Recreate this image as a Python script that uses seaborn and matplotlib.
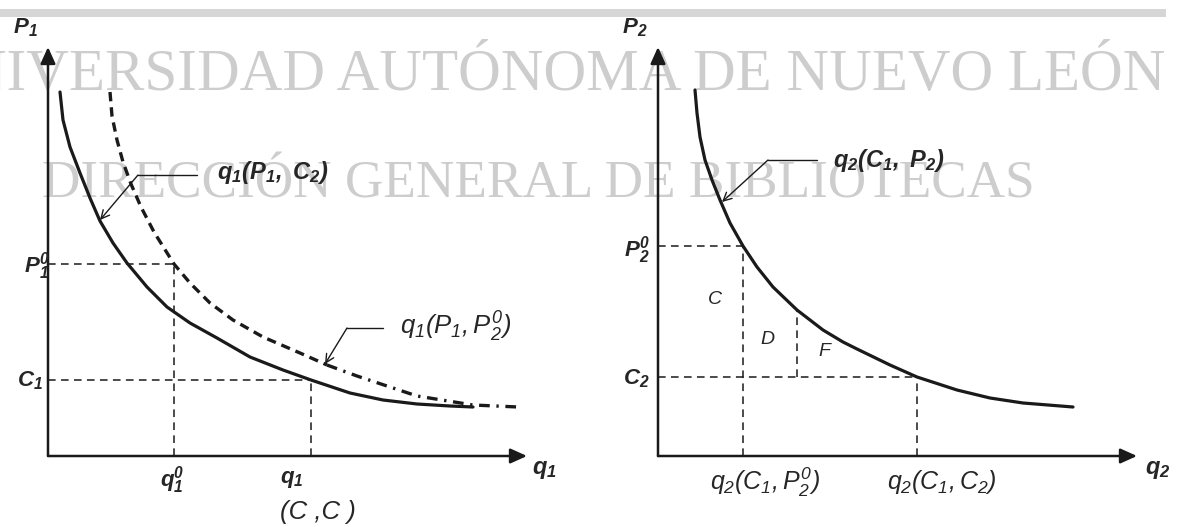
import matplotlib
matplotlib.use('Agg')
import matplotlib.pyplot as plt
import seaborn as sns
from matplotlib.patches import Rectangle

# =============================================================================
# DATOS (unidades arbitrarias de cantidad / precio)
# =============================================================================
# Panel izquierdo: demanda del bien 1
q1_con_c2 = [1.2, 1.5, 2.2, 3.2, 4.2, 5.2, 6.5, 7.9, 9.9, 11.9, 14.2, 16.9, 20.2, 23.5,
             26.3, 30.2, 33.5, 36.9, 40.2, 42.5]
p1_con_c2 = [36.4, 33.6, 30.9, 28.3, 25.8, 23.5, 21.3, 19.3, 16.9, 14.9, 13.3, 11.8, 9.9, 8.6,
             7.6, 6.3, 5.6, 5.2, 5.0, 4.9]

q1_con_p20_raya = [6.2, 6.4, 6.9, 7.5, 8.3, 9.3, 10.6, 12.6, 14.2, 16.2, 18.5, 21.5, 25.2, 27.9]
p1_con_p20_raya = [36.4, 34.0, 31.6, 29.4, 27.2, 24.9, 22.4, 19.2, 17.3, 15.3, 13.6, 11.9, 10.3, 9.1]
q1_con_p20_punto = [27.9, 30.9, 36.9, 42.5, 47.0]
p1_con_p20_punto = [9.1, 8.0, 6.0, 5.1, 4.9]

P1_0, q1_0 = 19.2, 12.6
C1, q1_CC = 7.6, 26.3

# Panel derecho: demanda del bien 2
q2_curva = [3.7, 3.9, 4.2, 4.7, 5.4, 6.2, 7.2, 8.5, 9.9, 11.5, 13.9, 16.5, 18.5,
            19.9, 23.2, 25.9, 29.9, 33.2, 36.5, 41.5]
p2_curva = [36.6, 34.3, 31.9, 29.6, 27.6, 25.6, 23.3, 21.0, 18.9, 16.9, 14.6, 12.6, 11.4,
            10.7, 9.1, 7.9, 6.6, 5.8, 5.3, 4.9]

P2_0, q2_P20 = 21.0, 8.5
C2, q2_C1C2 = 7.9, 25.9
q2_DF, p2_DF = 13.9, 14.6

# =============================================================================
# ESTILO
# =============================================================================
sns.set_theme(style='white')
plt.rcParams['font.family'] = ['Liberation Sans', 'DejaVu Sans']
plt.rcParams['mathtext.fontset'] = 'custom'
plt.rcParams['mathtext.rm'] = 'Liberation Sans:italic'
plt.rcParams['mathtext.it'] = 'Liberation Sans:italic'
plt.rcParams['mathtext.bf'] = 'Liberation Sans:italic:bold'

W, H = 1177, 527
fig = plt.figure(figsize=(W / 100, H / 100), dpi=100)

# fondo del escaneo: barra gris y marca de agua
fig.add_artist(Rectangle((0, 1 - 17 / H), 1166 / W, 8 / H, transform=fig.transFigure,
                         color='#d6d6d6', lw=0, zorder=-3))
fig.text(1165 / W, 1 - 90 / H, 'UNIVERSIDAD AUTÓNOMA DE NUEVO LEÓN', ha='right', va='baseline',
         fontsize=42.6, family='Liberation Serif', color='#cdcdcd', zorder=-2)
fig.text(42 / W, 1 - 197 / H, 'DIRECCIÓN GENERAL DE BIBLIOTECAS', ha='left', va='baseline',
         fontsize=38.3, family='Liberation Serif', color='#cdcdcd', zorder=-2)

ax1 = fig.add_axes([0, 0, 590 / W, 1])
ax2 = fig.add_axes([590 / W, 0, 587 / W, 1])

eje = dict(arrowstyle='-|>,head_length=1.0,head_width=0.45', lw=1.8, color='k',
           mutation_scale=10, shrinkA=0, shrinkB=0)
flecha = dict(arrowstyle='->,head_length=0.6,head_width=0.3', lw=1.0, color='k',
              mutation_scale=10, shrinkA=0, shrinkB=0)
guia = dict(color='k', lw=1.1, linestyles=(0, (5, 3.5)))

for ax in (ax1, ax2):
    ax.annotate('', xy=(0, 40.9), xytext=(0, 0), arrowprops=eje)
    ax.annotate('', xy=(47.9, 0), xytext=(0, 0), arrowprops=eje)

# =============================================================================
# PANEL 1
# =============================================================================
sns.lineplot(x=q1_con_c2, y=p1_con_c2, sort=False, estimator=None, color='k', lw=2.3, ax=ax1)
sns.lineplot(x=q1_con_p20_raya, y=p1_con_p20_raya, sort=False, estimator=None, color='k', lw=2.4,
             linestyle=(0, (2.8, 1.8)), ax=ax1)
sns.lineplot(x=q1_con_p20_punto, y=p1_con_p20_punto, sort=False, estimator=None, color='k', lw=2.4,
             linestyle=(0, (3.2, 2.0, 0.7, 2.0)), ax=ax1)

ax1.hlines([P1_0, C1], 0, [q1_0, q1_CC], **guia)
ax1.vlines([q1_0, q1_CC], 0, [P1_0, C1], **guia)

ax1.text(-2.3, 42.8, r'$\mathbf{P_1}$', fontsize=16, ha='center', va='center')
ax1.text(49.6, -1.4, r'$\mathbf{q_1}$', fontsize=17, ha='center', va='center')
ax1.text(0.2, 19.0, r'$\mathbf{P_1^0}$', fontsize=16, ha='right', va='center')
ax1.text(-0.5, 7.5, r'$\mathbf{C_1}$', fontsize=16, ha='right', va='center')
ax1.text(11.2, -2.4, r'$\mathbf{q_1^0}$', fontsize=16, ha='left', va='center')
ax1.text(23.2, -2.4, r'$\mathbf{q_1}$', fontsize=16, ha='left', va='center')
ax1.text(23.2, -5.6, '(C ,C )', fontsize=18.5, style='italic', ha='left', va='center')

ax1.plot([14.9, 9.0], [28.1, 28.1], color='k', lw=1.0)
ax1.annotate('', xy=(5.2, 23.6), xytext=(9.0, 28.1), arrowprops=flecha)
ax1.text(16.9, 28.3, r'$\mathbf{q_1(P_1,\ C_2)}$', fontsize=17, ha='left', va='center')

ax1.plot([33.5, 29.9], [12.8, 12.8], color='k', lw=1.0)
ax1.annotate('', xy=(27.7, 9.2), xytext=(29.9, 12.8), arrowprops=flecha)
ax1.text(35.2, 12.9, r'$q_1(P_1,P_2^0)$', fontsize=18.5, ha='left', va='center')

# =============================================================================
# PANEL 2
# =============================================================================
sns.lineplot(x=q2_curva, y=p2_curva, sort=False, estimator=None, color='k', lw=2.3, ax=ax2)

ax2.hlines([P2_0, C2], 0, [q2_P20, q2_C1C2], **guia)
ax2.vlines([q2_P20, q2_C1C2], 0, [P2_0, C2], **guia)
ax2.vlines(q2_DF, C2, p2_DF, **guia)

ax2.text(-2.3, 42.8, r'$\mathbf{P_2}$', fontsize=16, ha='center', va='center')
ax2.text(50.0, -1.4, r'$\mathbf{q_2}$', fontsize=17, ha='center', va='center')
ax2.text(-0.8, 20.6, r'$\mathbf{P_2^0}$', fontsize=16, ha='right', va='center')
ax2.text(-0.8, 7.7, r'$\mathbf{C_2}$', fontsize=16, ha='right', va='center')

ax2.text(5.7, 15.6, r'$C$', fontsize=14, ha='center', va='center')
ax2.text(11.0, 11.6, r'$D$', fontsize=14, ha='center', va='center')
ax2.text(16.7, 10.4, r'$F$', fontsize=14, ha='center', va='center')

ax2.text(5.2, -2.6, r'$q_2(C_1,P_2^0)$', fontsize=18, ha='left', va='center')
ax2.text(22.9, -2.6, r'$q_2(C_1,C_2)$', fontsize=18, ha='left', va='center')

ax2.plot([15.9, 11.0], [29.6, 29.6], color='k', lw=1.0)
ax2.annotate('', xy=(6.4, 25.4), xytext=(11.0, 29.6), arrowprops=flecha)
ax2.text(17.5, 29.5, r'$\mathbf{q_2(C_1,\ P_2)}$', fontsize=17, ha='left', va='center')

# limites: el origen de cada panel cae en su sitio de la figura
ax1.set_xlim(-4.8, 54.2)
ax2.set_xlim(-6.8, 51.9)
for ax in (ax1, ax2):
    ax.set_ylim(-7.1, 45.6)
    ax.axis('off')
    ax.patch.set_alpha(0)

plt.savefig('out.png', dpi=100)
plt.close()
